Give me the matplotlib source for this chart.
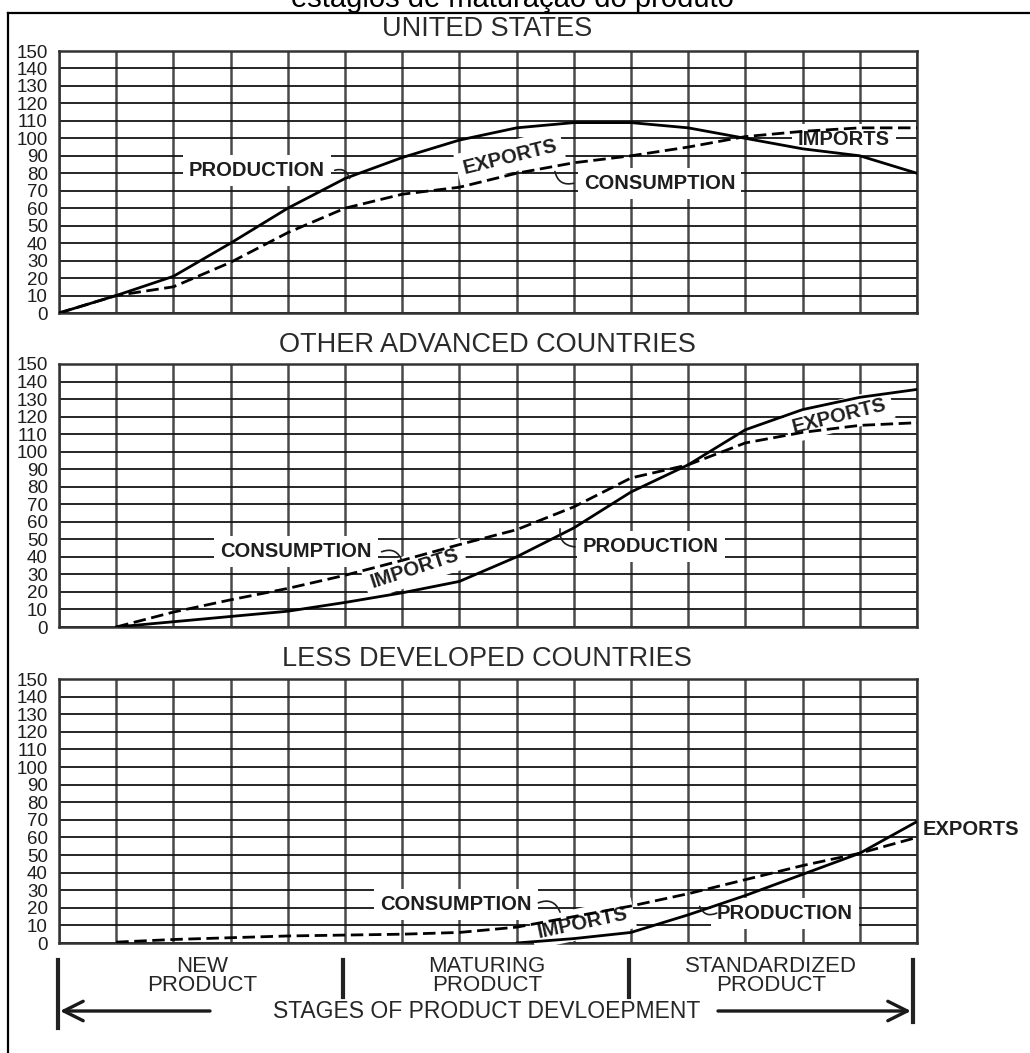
import numpy as np
import matplotlib
matplotlib.use("Agg")
import matplotlib.pyplot as plt
from matplotlib.lines import Line2D
from matplotlib.patches import FancyArrowPatch

plt.rcParams['font.family'] = ['Liberation Sans', 'DejaVu Sans']

# ---------------- data ----------------
nan = np.nan
stages_x = list(range(16))
y_ticks = list(range(0, 151, 10))
panel_titles = ["UNITED STATES", "OTHER ADVANCED COUNTRIES", "LESS DEVELOPED COUNTRIES"]

us_production = [0, 10, 21, 40, 60, 77, 89, 99, 106, 109, 109, 106, 100, 94, 90, 80]
us_consumption = [0, 10, 15, 29, 46, 60, 68, 72, 80, 86, 90, 95, 101, 104, 106, 106]

oac_production = [nan, 0, 3, 6, 9, 14, 19.5, 26, 40, 56.5, 77, 92.5, 112.5, 124, 131, 135.5]
oac_consumption = [nan, 0, 8.5, 15.5, 22, 29.5, 38, 47, 55.5, 68.5, 85, 92.5, 105, 111, 115, 116.5]

ldc_production = [nan, nan, nan, nan, nan, nan, nan, nan, 0, 2.5, 6, 16, 27, 39, 51, 69]
ldc_consumption = [nan, 0.5, 2, 3, 4, 4.5, 5, 6, 9, 15, 21, 28, 36, 44, 51, 60]

stage_labels = ["NEW\nPRODUCT", "MATURING\nPRODUCT", "STANDARDIZED\nPRODUCT"]
axis_caption = "STAGES OF PRODUCT DEVLOEPMENT"
top_title = "estágios de maturação do produto"

# ---------------- figure ----------------
W, H = 1030, 1053
fig = plt.figure(figsize=(W / 100, H / 100), dpi=100)
fig.patch.set_facecolor("white")


def fx(px):
    return px / W


def fy(py):
    return 1 - py / H


INK = "#1e1e1e"

# outer frame (top and left edges visible)
fig.add_artist(Line2D([fx(8), fx(W)], [fy(13), fy(13)], color="black", lw=1.6,
                      transform=fig.transFigure))
fig.add_artist(Line2D([fx(8), fx(8)], [fy(13), fy(H)], color="black", lw=1.6,
                      transform=fig.transFigure))

fig.text(fx(512), fy(7), top_title, ha="center", va="baseline", fontsize=21, color="black")

panel_px = [(51, 313), (364, 627), (679, 943)]
title_y = [29, 345, 659]
left_px, right_px = 59, 917

series = [(us_production, us_consumption),
          (oac_production, oac_consumption),
          (ldc_production, ldc_consumption)]

axes = []
for (top, bot), ty, title, (prod, cons) in zip(panel_px, title_y, panel_titles, series):
    ax = fig.add_axes([fx(left_px), fy(bot), (right_px - left_px) / W, (bot - top) / H])
    ax.set_xlim(0, 15)
    ax.set_ylim(0, 150)
    ax.set_xticks(stages_x)
    ax.set_yticks(y_ticks)
    ax.set_xticklabels([])
    ax.set_yticklabels([str(v) for v in y_ticks], fontsize=13.5, color=INK)
    ax.tick_params(length=0, pad=8)
    ax.set_axisbelow(True)
    ax.grid(axis="y", color="#151515", lw=1.3)
    ax.grid(axis="x", color="#4a4a4a", lw=1.8)
    for s in ax.spines.values():
        s.set_color("#333333")
        s.set_linewidth(1.8)
    ax.plot(stages_x, prod, color="black", lw=2.0, zorder=4, solid_capstyle="round")
    ax.plot(stages_x, cons, color="black", lw=2.0, ls=(0, (4.5, 2)), zorder=4)
    fig.text(fx(487), fy(ty), title, ha="center", va="center", fontsize=19.5, color="#2a2a2a")
    axes.append(ax)

lbl = dict(fontsize=14.5, fontweight="bold", color=INK, ha="center", va="center", zorder=3,
           bbox=dict(boxstyle="square,pad=0.3", fc="white", ec="none"))
lead = dict(arrowstyle="-", lw=1.2, color=INK, shrinkA=0, shrinkB=0)

# United States
a = axes[0]
a.text(3.46, 81.7, "PRODUCTION", **lbl)
a.annotate("", xy=(5.08, 77), xytext=(4.82, 81.7),
           arrowprops=dict(connectionstyle="arc3,rad=-0.5", **lead), zorder=5)
a.text(7.88, 89.5, "EXPORTS", rotation=14, **lbl)
a.text(10.5, 74.3, "CONSUMPTION", **lbl)
a.annotate("", xy=(9.0, 74.3), xytext=(8.67, 81),
           arrowprops=dict(connectionstyle="arc3,rad=0.5", **lead), zorder=5)
a.text(13.72, 99.5, "IMPORTS", **lbl)

# Other advanced countries
a = axes[1]
a.text(4.14, 42.9, "CONSUMPTION", **lbl)
a.annotate("", xy=(6.0, 37.5), xytext=(5.64, 42.9),
           arrowprops=dict(connectionstyle="arc3,rad=-0.5", **lead), zorder=5)
a.text(6.22, 33.2, "IMPORTS", rotation=18, **lbl)
a.text(10.35, 45.7, "PRODUCTION", **lbl)
a.annotate("", xy=(9.02, 45.7), xytext=(8.76, 56),
           arrowprops=dict(connectionstyle="arc3,rad=0.5", **lead), zorder=5)
a.text(13.64, 120.6, "EXPORTS", rotation=14, **lbl)

# Less developed countries
a = axes[2]
a.text(6.94, 21.7, "CONSUMPTION", **lbl)
a.annotate("", xy=(8.76, 17.5), xytext=(8.38, 22.8),
           arrowprops=dict(connectionstyle="arc3,rad=-0.5", **lead), zorder=5)
a.text(9.16, 11.2, "IMPORTS", rotation=12, **lbl)
a.text(12.69, 17, "PRODUCTION", **lbl)
a.annotate("", xy=(11.5, 17), xytext=(11.2, 20.8),
           arrowprops=dict(connectionstyle="arc3,rad=0.5", **lead), zorder=5)
a.text(15.94, 64.6, "EXPORTS", fontsize=14.5, fontweight="bold", color=INK,
       ha="center", va="center", clip_on=False)

# ---------------- stage axis below ----------------
for xpx, y0, y1 in [(58, 960, 1028), (343, 960, 997), (629, 960, 997), (913, 960, 1022)]:
    fig.add_artist(Line2D([fx(xpx), fx(xpx)], [fy(y0), fy(y1)], color="#222222", lw=3,
                          transform=fig.transFigure))

for cx, text in zip([202, 487, 771], stage_labels):
    fig.text(fx(cx), fy(976), text, ha="center", va="center", fontsize=16,
             color="#262626", linespacing=0.92)

fig.text(fx(487), fy(1011), axis_caption, ha="center", va="center", fontsize=16.5, color="#262626")

arrow_kw = dict(arrowstyle="->,head_length=0.7,head_width=0.35", mutation_scale=20,
                lw=2.4, color="#1a1a1a", shrinkA=0, shrinkB=0)
fig.add_artist(FancyArrowPatch((fx(210), fy(1011)), (fx(60), fy(1011)),
                               transform=fig.transFigure, **arrow_kw))
fig.add_artist(FancyArrowPatch((fx(718), fy(1011)), (fx(911), fy(1011)),
                               transform=fig.transFigure, **arrow_kw))

fig.savefig("out.png", dpi=100, facecolor="white")
